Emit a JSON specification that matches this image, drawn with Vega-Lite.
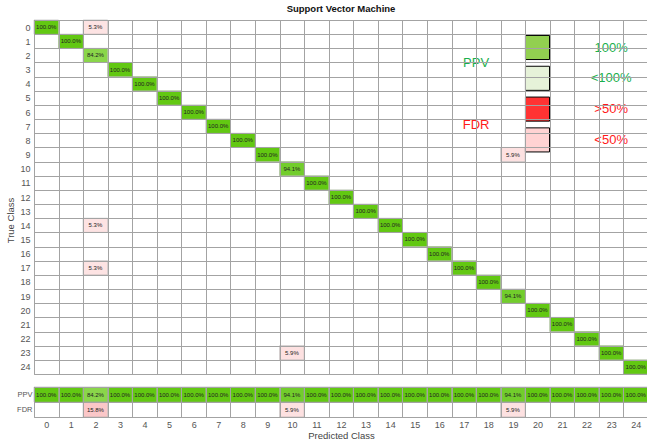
{
  "$schema": "https://vega.github.io/schema/vega-lite/v6.json",
  "padding": {"left": 5, "top": 3, "right": 0, "bottom": 0},
  "background": "white",
  "config": {
    "font": "Liberation Sans",
    "view": {"stroke": "#a3a3a3", "strokeWidth": 1},
    "axis": {
      "gridColor": "#a3a3a3", "gridOpacity": 1, "gridWidth": 1,
      "domain": false, "ticks": false, "tickBand": "extent",
      "labelFont": "Liberation Sans", "labelColor": "#555",
      "titleFont": "Liberation Sans", "titleColor": "#444", "titleFontWeight": "normal"
    }
  },
  "datasets": {
    "m": [
      {"t": 0, "p": 0, "v": 1}, {"t": 1, "p": 1, "v": 1}, {"t": 2, "p": 2, "v": 0.842},
      {"t": 3, "p": 3, "v": 1}, {"t": 4, "p": 4, "v": 1}, {"t": 5, "p": 5, "v": 1},
      {"t": 6, "p": 6, "v": 1}, {"t": 7, "p": 7, "v": 1}, {"t": 8, "p": 8, "v": 1},
      {"t": 9, "p": 9, "v": 1}, {"t": 10, "p": 10, "v": 0.941}, {"t": 11, "p": 11, "v": 1},
      {"t": 12, "p": 12, "v": 1}, {"t": 13, "p": 13, "v": 1}, {"t": 14, "p": 14, "v": 1},
      {"t": 15, "p": 15, "v": 1}, {"t": 16, "p": 16, "v": 1}, {"t": 17, "p": 17, "v": 1},
      {"t": 18, "p": 18, "v": 1}, {"t": 19, "p": 19, "v": 0.941}, {"t": 20, "p": 20, "v": 1},
      {"t": 21, "p": 21, "v": 1}, {"t": 22, "p": 22, "v": 1}, {"t": 23, "p": 23, "v": 1},
      {"t": 24, "p": 24, "v": 1},
      {"t": 0, "p": 2, "v": 0.053}, {"t": 14, "p": 2, "v": 0.053}, {"t": 17, "p": 2, "v": 0.053},
      {"t": 9, "p": 19, "v": 0.059}, {"t": 23, "p": 10, "v": 0.059}
    ],
    "s": [
      {"p": 0, "r": "PPV", "v": 1}, {"p": 1, "r": "PPV", "v": 1}, {"p": 2, "r": "PPV", "v": 0.842},
      {"p": 3, "r": "PPV", "v": 1}, {"p": 4, "r": "PPV", "v": 1}, {"p": 5, "r": "PPV", "v": 1},
      {"p": 6, "r": "PPV", "v": 1}, {"p": 7, "r": "PPV", "v": 1}, {"p": 8, "r": "PPV", "v": 1},
      {"p": 9, "r": "PPV", "v": 1}, {"p": 10, "r": "PPV", "v": 0.941}, {"p": 11, "r": "PPV", "v": 1},
      {"p": 12, "r": "PPV", "v": 1}, {"p": 13, "r": "PPV", "v": 1}, {"p": 14, "r": "PPV", "v": 1},
      {"p": 15, "r": "PPV", "v": 1}, {"p": 16, "r": "PPV", "v": 1}, {"p": 17, "r": "PPV", "v": 1},
      {"p": 18, "r": "PPV", "v": 1}, {"p": 19, "r": "PPV", "v": 0.941}, {"p": 20, "r": "PPV", "v": 1},
      {"p": 21, "r": "PPV", "v": 1}, {"p": 22, "r": "PPV", "v": 1}, {"p": 23, "r": "PPV", "v": 1},
      {"p": 24, "r": "PPV", "v": 1},
      {"p": 0, "r": "FDR", "v": 0}, {"p": 1, "r": "FDR", "v": 0}, {"p": 2, "r": "FDR", "v": 0.158},
      {"p": 3, "r": "FDR", "v": 0}, {"p": 4, "r": "FDR", "v": 0}, {"p": 5, "r": "FDR", "v": 0},
      {"p": 6, "r": "FDR", "v": 0}, {"p": 7, "r": "FDR", "v": 0}, {"p": 8, "r": "FDR", "v": 0},
      {"p": 9, "r": "FDR", "v": 0}, {"p": 10, "r": "FDR", "v": 0.059}, {"p": 11, "r": "FDR", "v": 0},
      {"p": 12, "r": "FDR", "v": 0}, {"p": 13, "r": "FDR", "v": 0}, {"p": 14, "r": "FDR", "v": 0},
      {"p": 15, "r": "FDR", "v": 0}, {"p": 16, "r": "FDR", "v": 0}, {"p": 17, "r": "FDR", "v": 0},
      {"p": 18, "r": "FDR", "v": 0}, {"p": 19, "r": "FDR", "v": 0.059}, {"p": 20, "r": "FDR", "v": 0},
      {"p": 21, "r": "FDR", "v": 0}, {"p": 22, "r": "FDR", "v": 0}, {"p": 23, "r": "FDR", "v": 0},
      {"p": 24, "r": "FDR", "v": 0}
    ],
    "lg": [
      {"k": "100%", "g": "PPV", "i": 0},
      {"k": "<100%", "g": "PPV", "i": 1},
      {"k": ">50%", "g": "FDR", "i": 2},
      {"k": "<50%", "g": "FDR", "i": 3}
    ]
  },
  "spacing": 7,
  "vconcat": [
    {
      "width": 614,
      "height": 354,
      "title": {"text": "Support Vector Machine", "frame": "group", "fontSize": 9.5, "fontWeight": "bold", "color": "#111", "offset": 3},
      "layer": [
        {
          "data": {"name": "m"},
          "encoding": {
            "x": {"field": "p", "type": "ordinal",
              "scale": {"domain": [0,1,2,3,4,5,6,7,8,9,10,11,12,13,14,15,16,17,18,19,20,21,22,23,24], "paddingInner": 0, "paddingOuter": 0},
              "axis": {"labels": false, "title": null, "grid": true}},
            "y": {"field": "t", "type": "ordinal",
              "scale": {"domain": [0,1,2,3,4,5,6,7,8,9,10,11,12,13,14,15,16,17,18,19,20,21,22,23,24], "paddingInner": 0, "paddingOuter": 0},
              "axis": {"title": "True Class", "grid": true, "labelFontSize": 9, "labelPadding": 4, "titleFontSize": 9.5, "titlePadding": 4, "titleY": 200}}
          },
          "layer": [
            {
              "transform": [{"filter": "datum.t == datum.p"}],
              "mark": {"type": "rect", "stroke": "#a3a3a3", "strokeWidth": 0.5},
              "encoding": {"fill": {"field": "v", "type": "quantitative", "scale": {"domain": [0.842, 1], "range": ["#8ad64a", "#62c812"]}, "legend": null}}
            },
            {
              "transform": [{"filter": "datum.t != datum.p"}],
              "mark": {"type": "rect", "stroke": "#a3a3a3", "strokeWidth": 0.5},
              "encoding": {"fill": {"field": "v", "type": "quantitative", "scale": {"domain": [0.053, 0.158], "range": ["#fde3e3", "#fbc7c8"]}, "legend": null}}
            },
            {
              "mark": {"type": "text", "fontSize": 6, "color": "#222", "font": "Liberation Sans"},
              "encoding": {"text": {"field": "v", "type": "quantitative", "format": ".1%"}}
            }
          ],
          "resolve": {"scale": {"fill": "independent"}}
        },
        {
          "data": {"name": "lg"},
          "layer": [
            {
              "mark": {"type": "point", "shape": "square", "filled": true, "size": 580, "stroke": "black", "strokeWidth": 1, "opacity": 1},
              "encoding": {
                "x": {"datum": 20, "type": "quantitative", "scale": {"domain": [-0.5, 24.5], "nice": false, "zero": false}, "axis": null},
                "y": {"field": "i", "type": "quantitative", "scale": {"domain": [-0.893, 10.6], "reverse": true, "nice": false, "zero": false}, "axis": null},
                "fill": {"field": "k", "type": "nominal", "scale": {"domain": ["100%", "<100%", ">50%", "<50%"], "range": ["#92d050", "#e6f2d9", "#ff3333", "#ffd3d3"]}, "legend": null}
              }
            },
            {
              "mark": {"type": "text", "fontSize": 13, "font": "Liberation Sans"},
              "encoding": {
                "x": {"datum": 23, "type": "quantitative"},
                "y": {"field": "i", "type": "quantitative"},
                "text": {"field": "k"},
                "color": {"field": "g", "type": "nominal", "scale": {"domain": ["PPV", "FDR"], "range": ["#1aaf4c", "#ff1a1a"]}, "legend": null}
              }
            },
            {
              "transform": [{"aggregate": [{"op": "mean", "field": "i", "as": "i"}], "groupby": ["g"]}],
              "mark": {"type": "text", "fontSize": 13, "font": "Liberation Sans"},
              "encoding": {
                "x": {"datum": 17.5, "type": "quantitative"},
                "y": {"field": "i", "type": "quantitative"},
                "text": {"field": "g"},
                "color": {"field": "g", "type": "nominal", "scale": {"domain": ["PPV", "FDR"], "range": ["#1aaf4c", "#ff1a1a"]}, "legend": null}
              }
            }
          ],
          "resolve": {"scale": {"fill": "independent", "color": "independent"}}
        }
      ],
      "resolve": {"scale": {"x": "independent", "y": "independent"}}
    },
    {
      "width": 614,
      "height": 30,
      "data": {"name": "s"},
      "encoding": {
        "x": {"field": "p", "type": "ordinal",
          "scale": {"domain": [0,1,2,3,4,5,6,7,8,9,10,11,12,13,14,15,16,17,18,19,20,21,22,23,24], "paddingInner": 0, "paddingOuter": 0},
          "axis": {"title": "Predicted Class", "grid": true, "labelAngle": 0, "labelFontSize": 9, "labelPadding": 3, "titleFontSize": 9.5, "titlePadding": 1}},
        "y": {"field": "r", "type": "nominal",
          "scale": {"domain": ["PPV", "FDR"], "paddingInner": 0, "paddingOuter": 0},
          "axis": {"title": null, "grid": true, "labelFontSize": 7.5, "labelPadding": 2}}
      },
      "layer": [
        {
          "transform": [{"filter": "datum.r == 'PPV'"}],
          "mark": {"type": "rect", "stroke": "#a3a3a3", "strokeWidth": 0.5},
          "encoding": {"fill": {"field": "v", "type": "quantitative", "scale": {"domain": [0.842, 1], "range": ["#8ad64a", "#62c812"]}, "legend": null}}
        },
        {
          "transform": [{"filter": "datum.r == 'FDR' && datum.v > 0"}],
          "mark": {"type": "rect", "stroke": "#a3a3a3", "strokeWidth": 0.5},
          "encoding": {"fill": {"field": "v", "type": "quantitative", "scale": {"domain": [0.053, 0.158], "range": ["#fde3e3", "#fbc7c8"]}, "legend": null}}
        },
        {
          "transform": [{"filter": "datum.v > 0"}],
          "mark": {"type": "text", "fontSize": 6, "color": "#222", "font": "Liberation Sans"},
          "encoding": {"text": {"field": "v", "type": "quantitative", "format": ".1%"}}
        }
      ],
      "resolve": {"scale": {"fill": "independent"}}
    }
  ]
}
